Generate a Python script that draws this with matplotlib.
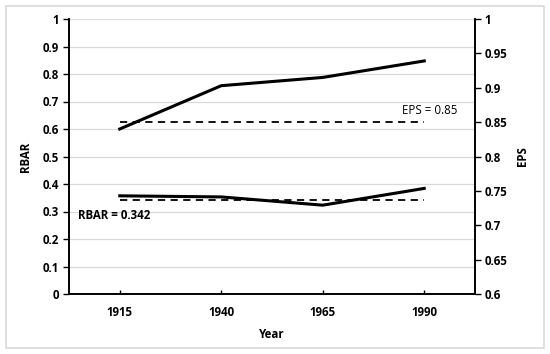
import numpy as np
import matplotlib.pyplot as plt
from matplotlib.patches import Rectangle

# data
years = ['1915', '1940', '1965', '1990']
rbar = [0.357, 0.353, 0.323, 0.384]
eps = [0.840, 0.903, 0.915, 0.939]
rbar_mean = 0.342
eps_mean = 0.85

plt.rcParams['font.family'] = ['Open Sans', 'DejaVu Sans']
plt.rcParams['font.size'] = 8.3

fig = plt.figure(figsize=(5.5, 3.54), dpi=100)
ax = fig.add_axes([69 / 550, 1 - 294 / 354, 406 / 550, 275 / 354])
ax2 = ax.twinx()

x = np.arange(len(years))

# RBAR on the left axis
ax.plot(x, rbar, color='black', lw=2.2, zorder=3)
ax.plot([x[0], x[-1]], [rbar_mean, rbar_mean], color='black', lw=1.3, ls=(0, (4, 3)), zorder=3)
# EPS on the right axis
ax2.plot(x, eps, color='black', lw=2.2, zorder=3)
ax2.plot([x[0], x[-1]], [eps_mean, eps_mean], color='black', lw=1.3, ls=(0, (4, 3)), zorder=3)

ax.set_xlim(-0.5, len(years) - 0.5)
ax.set_ylim(0, 1)
ax2.set_ylim(0.6, 1)
ax.set_xticks(x)
ax.set_xticklabels(years, fontweight='bold')
ax.set_yticks(np.round(np.arange(0, 1.01, 0.1), 1))
ax.set_yticklabels(['0'] + ['%.1f' % v for v in np.arange(0.1, 0.95, 0.1)] + ['1'], fontweight='bold')
ax2.set_yticks(np.round(np.arange(0.6, 1.001, 0.05), 2))
ax2.set_yticklabels(['%g' % v for v in np.round(np.arange(0.6, 1.001, 0.05), 2)], fontweight='bold')

ax.grid(axis='y', color='#d9d9d9', lw=0.9)
ax.set_axisbelow(True)
ax.tick_params(axis='x', direction='in', length=3, pad=9, width=1)
ax.tick_params(axis='y', direction='out', length=4, pad=3, width=1)
ax2.tick_params(axis='y', direction='out', length=4, pad=3, width=1)

for a in (ax, ax2):
    a.spines['top'].set_visible(False)
    for s in ('left', 'right', 'bottom'):
        a.spines[s].set_linewidth(1.2)
        a.spines[s].set_color('black')

ax.set_xlabel('Year', fontweight='bold', labelpad=6)
ax.set_ylabel('RBAR', fontweight='bold', labelpad=8)
ax2.set_ylabel('EPS', fontweight='bold', labelpad=6)

ax.text(x[0] - 0.41, rbar_mean - 0.058, 'RBAR = 0.342', fontweight='bold', ha='left', va='center')
ax2.text(x[-1] + 0.33, eps_mean + 0.017, 'EPS = 0.85', ha='right', va='center')

fig.patches.append(Rectangle((6 / 550, 6 / 354), 538 / 550, 342 / 354, transform=fig.transFigure,
                             fill=False, edgecolor='#d9d9d9', lw=1.2))

fig.savefig('out.png', dpi=100)
